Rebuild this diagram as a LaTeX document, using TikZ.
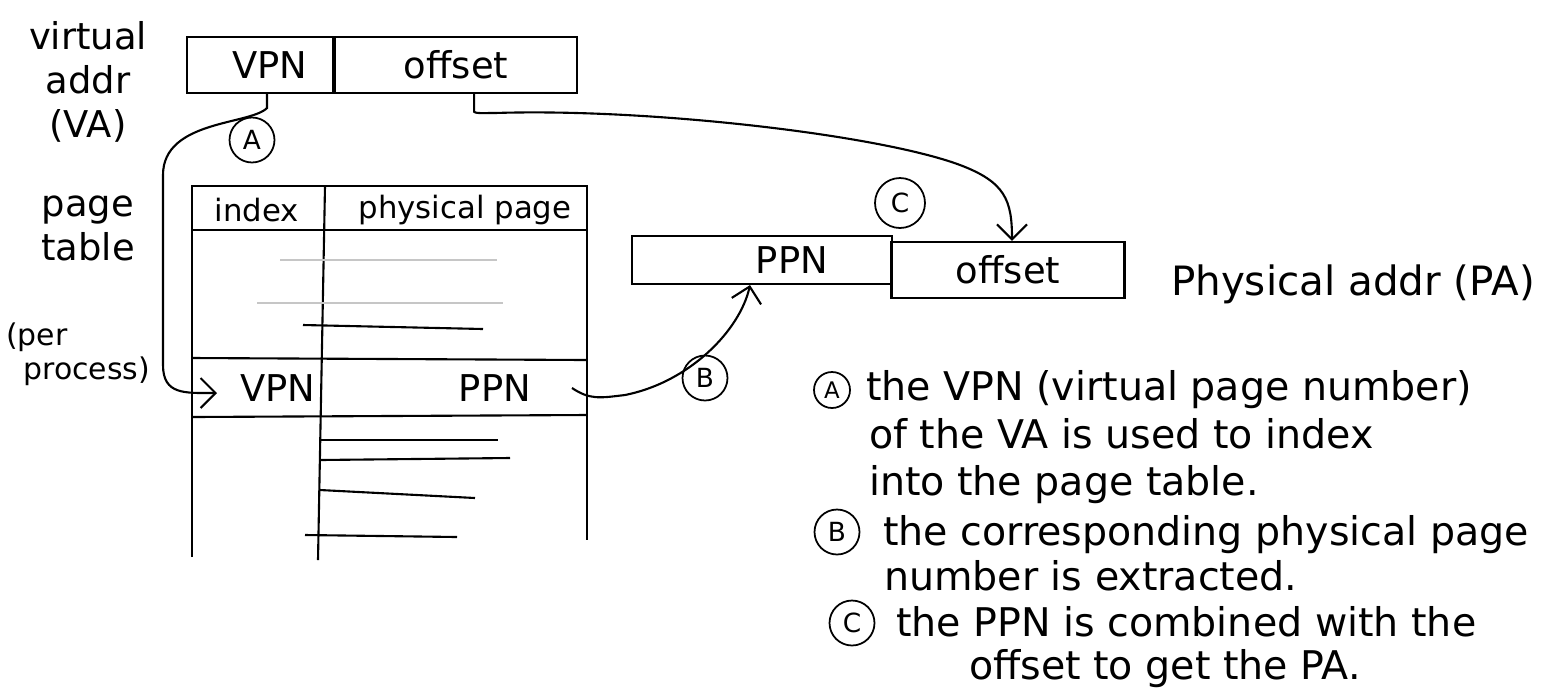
\documentclass[tikz,border=0pt]{standalone}
\usepackage{fontspec}
\setmainfont{DejaVu Sans}
\setsansfont{DejaVu Sans}
\usepackage{tikz}
\usetikzlibrary{positioning}
\usetikzlibrary{arrows.meta}
\usetikzlibrary{calc}
\newcommand{\hand}{\sffamily\fontsize{22.5}{27}\selectfont}
\newcommand{\handcell}{\sffamily\fontsize{21}{24}\selectfont}
\newcommand{\handsmall}{\sffamily\fontsize{17.5}{20}\selectfont}
\tikzset{cell/.style={draw,line width=1.2pt,inner sep=0pt,font=\handcell},
  badge/.style={circle,draw,line width=1pt,minimum size=0.9cm,inner sep=0pt,font=\sffamily\fontsize{15}{15}\selectfont},
  flow/.style={-{Straight Barb[length=3mm,width=6mm]},line width=1.2pt},
  note/.style={anchor=base west,inner sep=0pt,font=\hand},
  side label/.style={align=center,inner sep=0pt,font=\sffamily\fontsize{21}{25}\selectfont},
  faint/.style={gray!45,line width=1.2pt},}

\begin{document}
\begin{tikzpicture}[x=0.02cm, y=-0.02cm, line width=1.2pt]
	\useasboundingbox (0,0) rectangle (1551,691);

	% virtual address
	\node[side label] (valbl) at (88,82) {virtual\\addr\\(VA)};
	\node[cell, minimum width=2.92cm, minimum height=1.12cm] (vpn) at (260,65) {\hspace*{0.4cm}VPN};
	\node[cell, minimum width=4.84cm, minimum height=1.12cm, anchor=west] (voff) at (vpn.east) {offset};

	% page table
	\node[side label] (ptlbl) at (88,228) {page\\table};
	\node[align=left, inner sep=0pt, font=\sffamily\fontsize{17}{19}\selectfont, anchor=north west] (perlbl) at (5,322) {(per\\\hspace*{0.35cm}process)};
	\draw (192,557) -- (192,186) -- (587,186) -- (587,540);
	\draw (325,186) -- (318,560);
	\draw (192,230) -- (587,230);
	\draw (192,358) -- (587,360);
	\draw (192,417) -- (587,415);
	\draw[faint] (280,260) -- (497,260);
	\draw[faint] (257,303) -- (503,303);
	\draw (303,325) -- (483,329);
	\draw (320,440) -- (498,440);
	\draw (320,460) -- (510,458);
	\draw (320,490) -- (475,498);
	\draw (305,535) -- (457,537);
	\node[font=\handsmall] (idx) at (257,210) {index};
	\node[font=\handsmall] (phys) at (465,210) {physical page};
	\node[font=\handcell] (rvpn) at (278,388) {VPN};
	\node[font=\handcell] (rppn) at (495,388) {PPN};
	\coordinate (rowin) at (217,393);
	\coordinate (rowout) at (572,388);

	% physical address
	\node[cell, minimum width=5.2cm, minimum height=0.96cm] (ppn) at (762,260) {\hspace*{1.2cm}PPN};
	\node[cell, minimum width=4.66cm, minimum height=1.12cm] (poff) at (1008,270) {offset};
	\node[note, font=\sffamily\fontsize{23}{27}\selectfont] (palbl) at (1170,295) {Physical addr (PA)};

	% steps
	\node[badge] (bA) at (252,140) {A};
	\node[badge] (bB) at (705,378) {B};
	\node[badge, minimum size=1cm] (bC) at (900,203) {C};
	\draw[flow] ([xshift=0.14cm]vpn.south) -- ++(0,14) .. controls (250,125) and (163,120) .. (163,175) -- (163,365) .. controls (163,395) and (185,393) .. (rowin);
	\draw[flow] ([xshift=0.36cm]voff.south) -- ++(0,15) .. controls (472,114) and (478,113) .. (495,113) .. controls (650,108) and (880,135) .. (960,165) .. controls (1005,182) and (1012,200) .. ([xshift=0.08cm]poff.north);
	\draw[flow] (rowout) .. controls (590,400) and (600,398) .. (625,395) .. controls (690,382) and (740,330) .. ([xshift=-0.24cm]ppn.south);

	% notes
	\node[badge, minimum size=0.72cm, font=\sffamily\fontsize{13}{13}\selectfont] (nA) at (832,390) {A};
	\node[note] (n1) at (865,400) {the VPN (virtual page number)};
	\node[note] (n2) at (868,448) {of the VA is used to index};
	\node[note] (n3) at (868,495) {into the page table.};
	\node[badge] (nB) at (837,532) {B};
	\node[note] (n4) at (882,545) {the corresponding physical page};
	\node[note] (n5) at (883,590) {number is extracted.};
	\node[badge] (nC) at (852,623) {C};
	\node[note] (n6) at (895,636) {the PPN is combined with the};
	\node[note] (n7) at (968,679) {offset to get the PA.};
\end{tikzpicture}
\end{document}
